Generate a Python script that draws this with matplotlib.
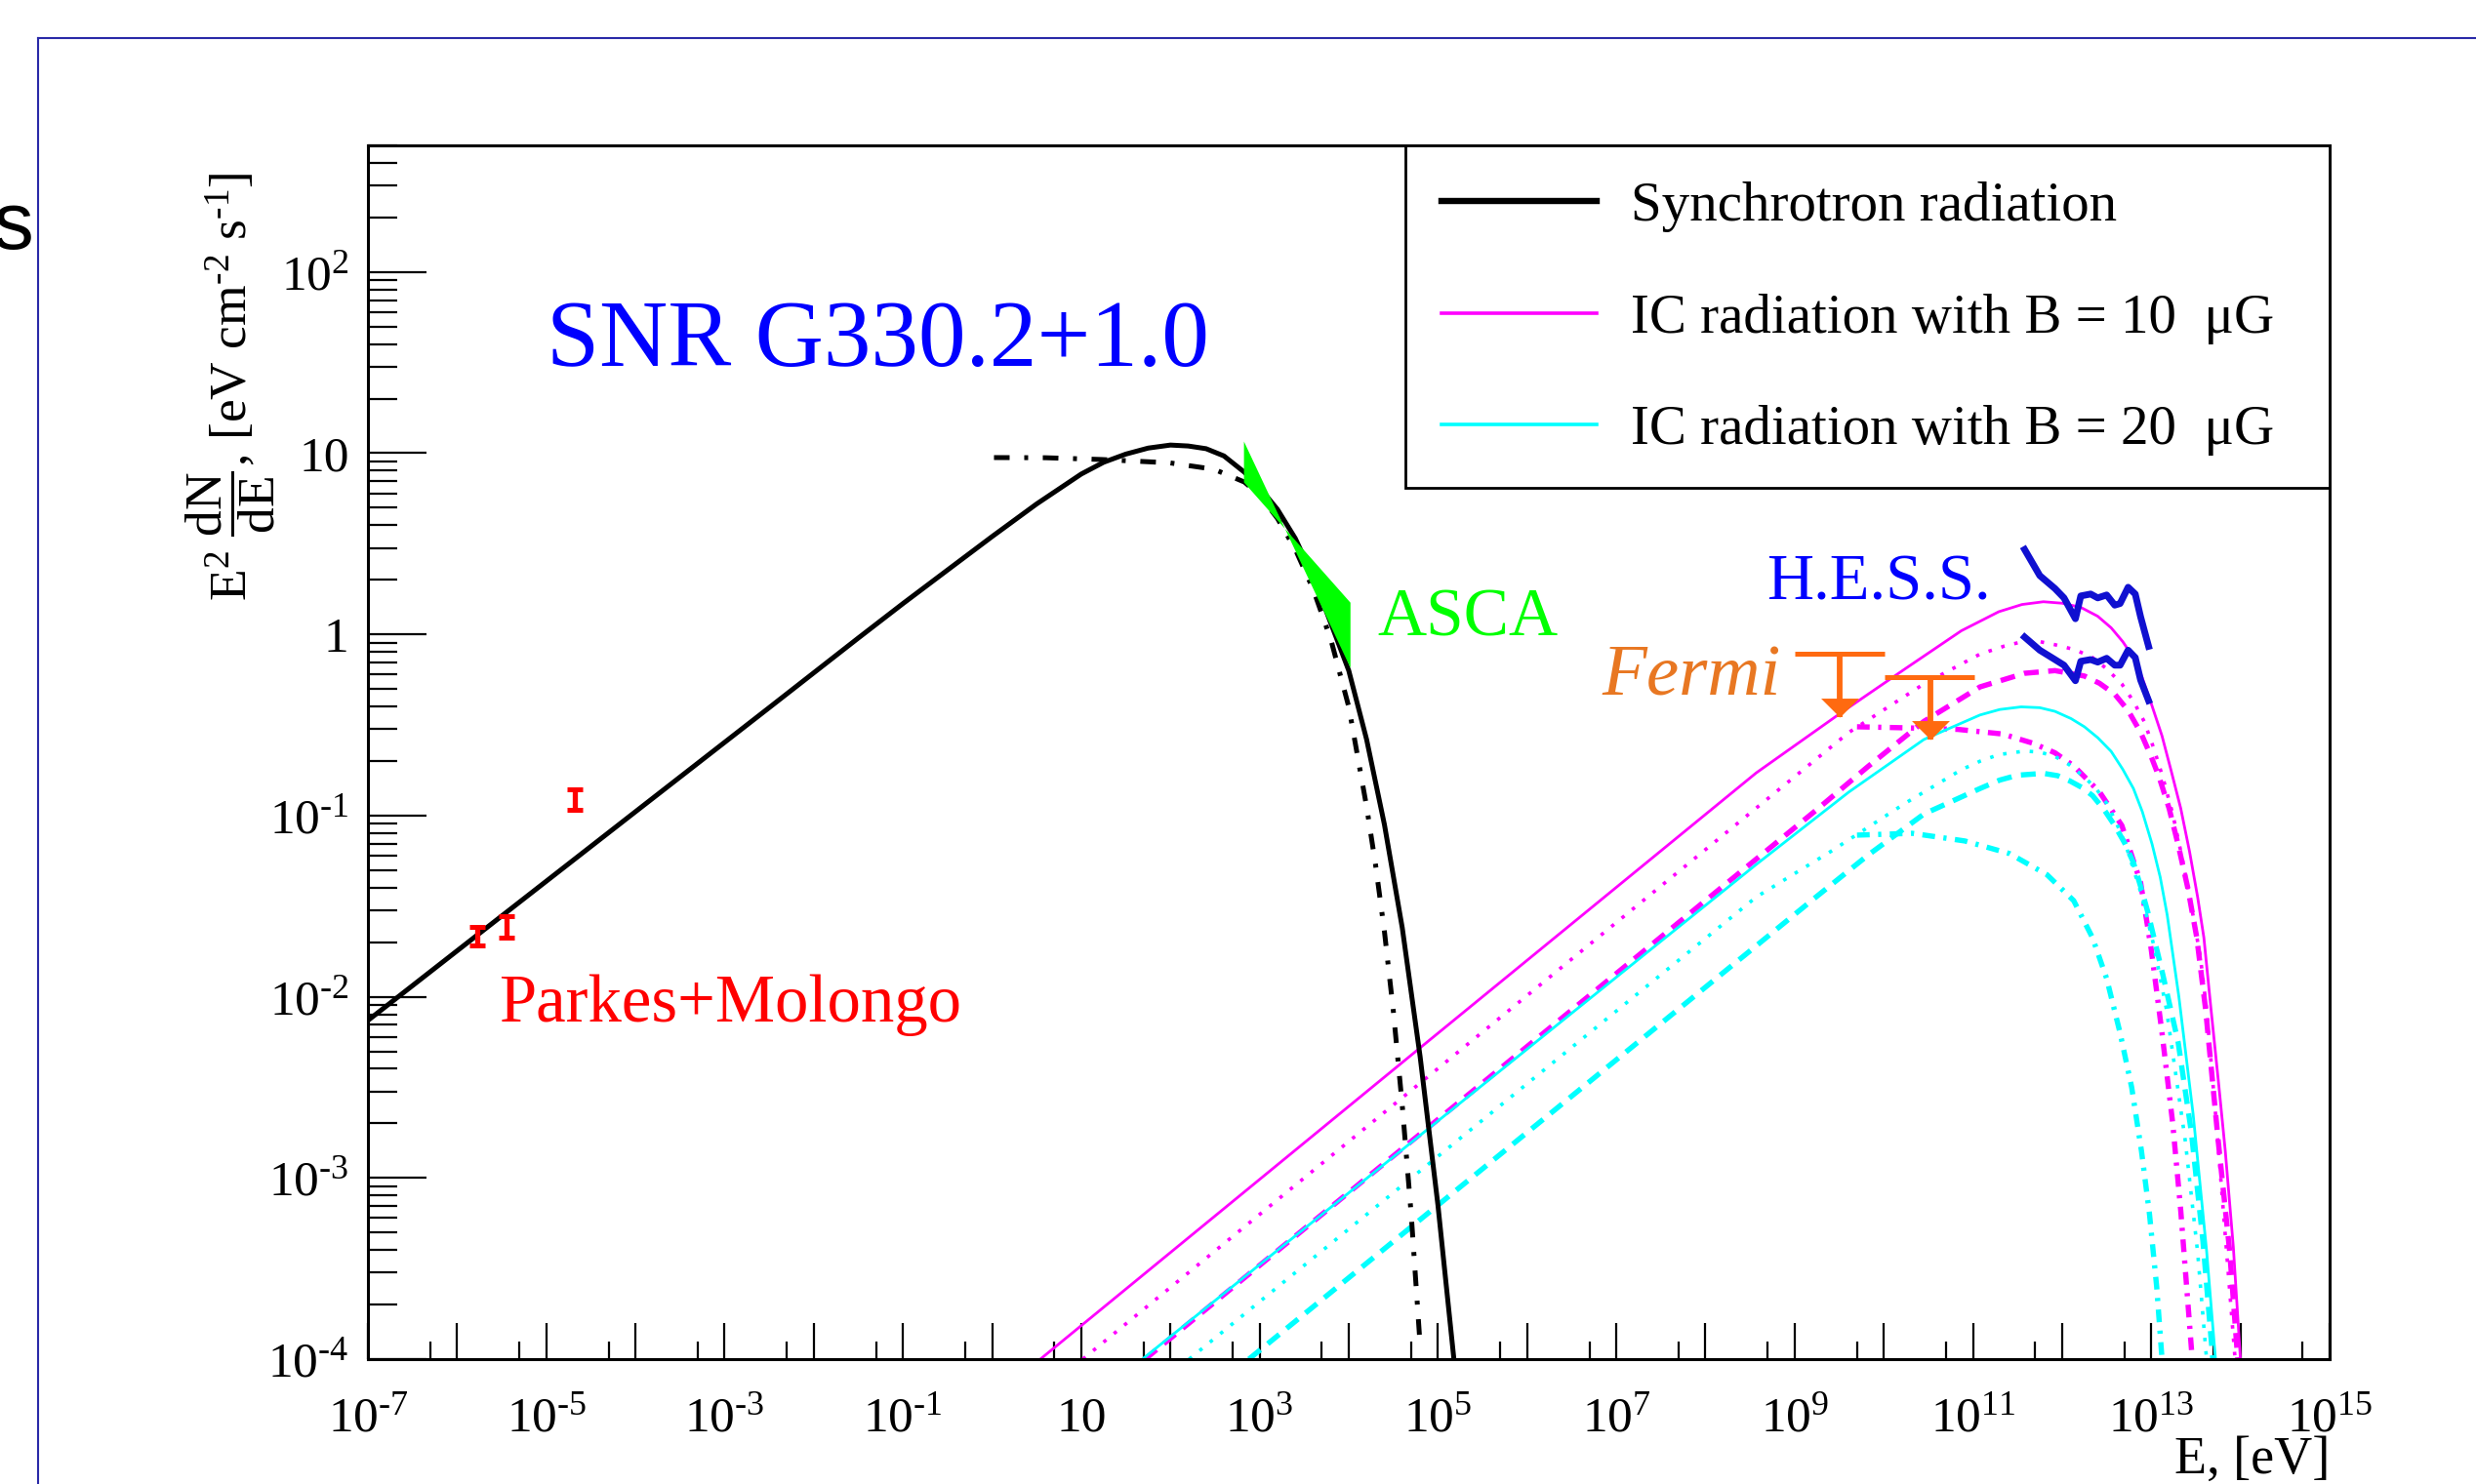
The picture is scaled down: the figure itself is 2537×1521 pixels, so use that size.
import matplotlib
matplotlib.use("Agg")
import matplotlib.pyplot as plt
from matplotlib.lines import Line2D
from matplotlib.patches import Rectangle
from matplotlib.ticker import LogLocator, NullFormatter
import numpy as np

plt.rcParams["font.family"] = ["Liberation Serif", "DejaVu Serif"]
plt.rcParams["mathtext.fontset"] = "custom"
plt.rcParams["mathtext.rm"] = "Liberation Serif"
plt.rcParams["mathtext.it"] = "Liberation Serif:italic"
plt.rcParams["mathtext.bf"] = "Liberation Serif:bold"

# ---- synchrotron (black) ----
sync_E = [1e-7, 3.16e-6, 1e-4, 3.16e-3, 0.0316, 0.1, 0.316, 1.0, 3.16, 10, 17.8, 31.6,
          56.2, 100, 158, 251, 398, 676, 1000, 1585, 2512, 3981, 6310, 1e4, 1.585e4,
          2.512e4, 3.981e4, 6.31e4, 1e5, 1.51e5]
sync_flux = [7.4e-3, 0.0279, 0.105, 0.394, 0.955, 1.479, 2.265, 3.467, 5.248, 7.674,
             8.91, 9.886, 10.67, 11.09, 10.96, 10.59, 9.66, 7.85, 6.457, 4.898, 3.388,
             2.089, 1.148, 0.631, 0.263, 0.0891, 0.024, 4.68e-3, 7.08e-4, 1e-4]
sync_cut_E = [1.05, 3.98, 17.0, 97.7, 309, 676, 1000, 1585, 2512, 3981, 6310, 1e4,
              1.585e4, 1.995e4, 2.512e4, 3.162e4, 3.981e4, 5.012e4, 6.31e4]
sync_cut_flux = [9.46, 9.44, 9.23, 8.85, 8.15, 6.93, 5.89, 4.365, 2.95, 1.778, 0.933,
                 0.398, 0.112, 0.0537, 0.0229, 8.32e-3, 2.51e-3, 6.31e-4, 1.2e-4]

# ---- IC, B = 10 uG (magenta) ----
ic10_solid_E = [3.48, 6.03e4, 3.71e8, 3.39e9, 1.74e10, 7.41e10, 1.95e11, 3.55e11,
                6.17e11, 1e12, 1.62e12, 2.51e12, 3.55e12, 4.79e12, 6.31e12, 7.94e12,
                1.02e13, 1.32e13, 1.66e13, 2.14e13, 2.69e13, 3.31e13, 3.89e13,
                4.68e13, 5.75e13, 6.76e13, 8.32e13, 1.0e14]
ic10_solid_flux = [1e-4, 5.13e-3, 0.172, 0.372, 0.646, 1.047, 1.334, 1.462, 1.514,
                   1.486, 1.41, 1.259, 1.087, 0.912, 0.745, 0.575, 0.403, 0.275, 0.179,
                   0.1096, 0.0631, 0.0355, 0.0212, 8.51e-3, 3.16e-3, 1.41e-3, 4.17e-4,
                   1e-4]
ic10_dot_E = [10.4, 3.71e8, 4.07e9, 2.82e10, 1.2e11, 2.24e11, 3.8e11, 5.62e11,
              8.32e11, 1.41e12, 2.19e12, 3.16e12, 4.68e12, 6.31e12, 8.32e12, 1.07e13,
              1.35e13, 1.74e13, 2.19e13, 2.82e13, 3.55e13, 4.17e13, 5.37e13, 7.24e13,
              8.71e13]
ic10_dot_flux = [1e-4, 0.11, 0.288, 0.533, 0.778, 0.861, 0.918, 0.912, 0.877, 0.822,
                 0.745, 0.646, 0.532, 0.427, 0.331, 0.234, 0.162, 0.102, 0.0603,
                 0.0316, 0.0166, 8.51e-3, 2.0e-3, 3.16e-4, 1e-4]
ic10_dash_E = [51.9, 3.71e8, 1.74e9, 6.61e9, 2.82e10, 1.2e11, 3.8e11, 8.32e11,
               1.78e12, 2.63e12, 3.89e12, 5.5e12, 7.59e12, 1e13, 1.23e13, 1.585e13,
               2.0e13, 2.57e13, 3.24e13, 4.07e13, 5.62e13, 7.59e13, 9.33e13]
ic10_dash_flux = [1e-4, 0.0575, 0.107, 0.186, 0.331, 0.513, 0.610, 0.631, 0.589,
                  0.537, 0.468, 0.380, 0.288, 0.211, 0.162, 0.1096, 0.0692, 0.0398,
                  0.0212, 8.51e-3, 1.62e-3, 3.89e-4, 1e-4]
ic10_dd_E = [5.01e9, 1.74e10, 6.76e10, 2.14e11, 4.68e11, 8.32e11, 1.35e12, 2.63e12,
             4.68e12, 7.59e12, 1.0e13, 1.32e13, 1.74e13, 2.14e13, 2.51e13, 2.88e13]
ic10_dd_flux = [0.309, 0.305, 0.299, 0.282, 0.251, 0.222, 0.188, 0.135, 0.0881,
                0.0427, 0.0182, 6.31e-3, 2.0e-3, 6.61e-4, 2.4e-4, 1e-4]

# ---- IC, B = 20 uG (cyan) ----
ic20_solid_E = [48.5, 3.71e8, 4.07e9, 2.82e10, 1.2e11, 2.0e11, 3.47e11, 5.62e11,
                8.32e11, 1.26e12, 1.78e12, 2.51e12, 3.55e12, 4.79e12, 6.31e12, 7.94e12,
                1.02e13, 1.26e13, 1.51e13, 2.04e13, 2.95e13, 4.17e13, 5.25e13]
ic20_solid_flux = [1e-4, 0.0537, 0.135, 0.263, 0.359, 0.385, 0.398, 0.394, 0.376,
                   0.343, 0.309, 0.269, 0.226, 0.180, 0.141, 0.105, 0.0697, 0.0457,
                   0.0282, 0.01, 2.24e-3, 3.98e-4, 1e-4]
ic20_dot_E = [162, 3.71e8, 2.51e9, 1.74e10, 7.41e10, 1.2e11, 1.95e11, 3.8e11, 5.62e11,
              8.32e11, 1.2e12, 1.78e12, 2.4e12, 3.16e12, 3.98e12, 5.13e12, 7.59e12,
              1.07e13, 1.48e13, 2.4e13, 3.31e13, 4.17e13]
ic20_dot_flux = [1e-4, 0.0355, 0.0631, 0.117, 0.179, 0.1995, 0.217, 0.227, 0.224,
                 0.212, 0.191, 0.163, 0.141, 0.117, 0.0933, 0.0697, 0.038, 0.0191,
                 8.51e-3, 1.62e-3, 3.89e-4, 1e-4]
ic20_dash_E = [759, 3.71e8, 1.58e9, 6.61e9, 2.82e10, 1.2e11, 2.0e11, 3.16e11, 6.17e11,
               8.91e11, 1.23e12, 1.66e12, 2.19e12, 2.95e12, 3.89e12, 5.01e12, 6.31e12,
               7.59e12, 9.12e12, 1.35e13, 2.0e13, 2.82e13, 3.8e13, 4.9e13]
ic20_dash_flux = [1e-4, 0.0191, 0.0342, 0.0603, 0.102, 0.141, 0.157, 0.167, 0.171,
                  0.166, 0.155, 0.143, 0.129, 0.108, 0.0881, 0.0708, 0.055, 0.0407,
                  0.0295, 0.0132, 5.62e-3, 1.78e-3, 4.47e-4, 1e-4]
ic20_dd_E = [5.01e9, 2.09e10, 8.13e10, 2.57e11, 6.76e11, 1.35e12, 2.19e12, 3.16e12,
             4.47e12, 6.03e12, 7.76e12, 9.55e12, 1.15e13, 1.32e13]
ic20_dd_flux = [0.078, 0.0798, 0.0724, 0.0617, 0.0472, 0.0339, 0.0212, 0.0126,
                6.31e-3, 3.16e-3, 1.41e-3, 6.31e-4, 2.51e-4, 1e-4]

# ---- measurements ----
radio_E = [1.70e-6, 3.58e-6, 2.09e-5]
radio_flux = [0.0217, 0.0243, 0.122]
radio_lo = [0.0191, 0.0211, 0.108]
radio_hi = [0.0243, 0.0279, 0.139]

asca_E = [668, 1.045e4, 1.045e4, 668]
asca_flux = [11.6, 0.653, 1.496, 6.90]

fermi_E = [3.24e9, 3.31e10]
fermi_E_lo = [1.01e9, 1.02e10]
fermi_E_hi = [1.02e10, 1.05e11]
fermi_ul = [0.78, 0.58]
fermi_tip = [0.348, 0.262]

hess_E = [3.80e11, 5.62e11, 8.32e11, 1.05e12, 1.41e12, 1.62e12, 2.09e12, 2.51e12,
          3.16e12, 3.89e12, 4.47e12, 5.50e12, 6.61e12, 7.59e12, 9.33e12]
hess_hi = [2.94, 2.11, 1.79, 1.59, 1.22, 1.63, 1.67, 1.59, 1.65, 1.45, 1.48, 1.82,
           1.67, 1.25, 0.859]
hess_lo = [0.966, 0.818, 0.726, 0.676, 0.555, 0.710, 0.726, 0.703, 0.738, 0.676,
           0.676, 0.818, 0.745, 0.560, 0.431]

legend_labels = ["Synchrotron radiation",
                 "IC radiation with B = 10  \u03bcG",
                 "IC radiation with B = 20  \u03bcG"]

MAGENTA = "#ff00ff"
CYAN = "#00ffff"
ORANGE = "#ff6a10"

W, H = 2537, 1521
fig = plt.figure(figsize=(W / 100, H / 100), dpi=100)
fig.patch.set_facecolor("white")

# slide frame + cut-off letter on the left
fx, fy = 39 / W, 1 - 39 / H
fig.add_artist(Line2D([fx, 1], [fy, fy], transform=fig.transFigure, color="#2a2aa8", lw=1.5))
fig.add_artist(Line2D([fx, fx], [0, fy], transform=fig.transFigure, color="#2a2aa8", lw=1.5))
fig.text(0.0135, 0.8323, "s", family="Liberation Sans", fontsize=60, ha="right", va="baseline")

# axes box in pixels: x 377..2387, y 149..1393 (from top)
ax = fig.add_axes([377 / W, 128 / H, 2010 / W, 1244 / H])
ax.set_xscale("log")
ax.set_yscale("log")
ax.set_xlim(1e-7, 1e15)
ax.set_ylim(1e-4, 5e2)

# synchrotron
ax.plot(sync_E, sync_flux, color="black", lw=3.6, zorder=3)
ax.plot(sync_cut_E, sync_cut_flux, color="black", lw=3.6, dashes=(3.2, 3.0, 0.8, 3.0), zorder=3)

# IC curves
styles = {
    "solid": dict(lw=2.0),
    "dot": dict(lw=2.6, dashes=(1.0, 2.8)),
    "dash": dict(lw=3.9, dashes=(2.8, 1.8)),
    "dd": dict(lw=3.9, dashes=(2.4, 1.6, 0.6, 1.6)),
}
ax.plot(ic10_solid_E, ic10_solid_flux, color=MAGENTA, **styles["solid"])
ax.plot(ic10_dot_E, ic10_dot_flux, color=MAGENTA, **styles["dot"])
ax.plot(ic10_dash_E, ic10_dash_flux, color=MAGENTA, **styles["dash"])
ax.plot(ic10_dd_E, ic10_dd_flux, color=MAGENTA, **styles["dd"])
ax.plot(ic20_solid_E, ic20_solid_flux, color=CYAN, **styles["solid"])
ax.plot(ic20_dot_E, ic20_dot_flux, color=CYAN, **styles["dot"])
ax.plot(ic20_dash_E, ic20_dash_flux, color=CYAN, **styles["dash"])
ax.plot(ic20_dd_E, ic20_dd_flux, color=CYAN, **styles["dd"])

# ASCA bow-tie
ax.fill(asca_E, asca_flux, color="#00ff00", lw=0, zorder=4)

# radio points
radio_err = [np.array(radio_flux) - np.array(radio_lo), np.array(radio_hi) - np.array(radio_flux)]
ax.errorbar(radio_E, radio_flux, yerr=radio_err, fmt="none", ecolor="#ff0000",
            elinewidth=3.8, capsize=6.0, capthick=3.6, zorder=5)

# Fermi upper limits
ax.hlines(fermi_ul, fermi_E_lo, fermi_E_hi, color=ORANGE, lw=3.6, zorder=5)
ax.vlines(fermi_E, fermi_tip, fermi_ul, color=ORANGE, lw=4.2, zorder=5)
ax.plot(fermi_E, fermi_tip, ls="none", marker=[(-1, 1), (1, 1), (0, 0)],
        markersize=28, color=ORANGE, mec="none", zorder=6)

# HESS
ax.plot(hess_E, hess_hi, color="#1010d0", lw=5.0, zorder=6)
ax.plot(hess_E, hess_lo, color="#1010d0", lw=5.0, zorder=6)

# axes decoration
for sp in ax.spines.values():
    sp.set_linewidth(2.2)

xt = [10.0 ** e for e in range(-7, 16)]
xl = []
for e in range(-7, 16):
    if e % 2 == 0:
        xl.append("")
    elif e == 1:
        xl.append("10")
    elif e < 0:
        xl.append(r"$10^{\text{-}%d}$" % (-e))
    else:
        xl.append(r"$10^{%d}$" % e)
ax.set_xticks(xt)
ax.set_xticklabels(xl)
ax.set_yticks([1e-4, 1e-3, 1e-2, 1e-1, 1, 10, 100])
ax.set_yticklabels([r"$10^{\text{-}4}$", r"$10^{\text{-}3}$", r"$10^{\text{-}2}$",
                    r"$10^{\text{-}1}$", "1", "10", r"$10^{2}$"])
ax.xaxis.set_minor_locator(LogLocator(base=10, subs=(5.0,), numticks=40))
ax.yaxis.set_minor_locator(LogLocator(base=10, subs=np.arange(2, 10), numticks=40))
ax.xaxis.set_minor_formatter(NullFormatter())
ax.yaxis.set_minor_formatter(NullFormatter())
ax.tick_params(axis="x", which="major", direction="in", length=26.6, width=1.6,
               pad=53, labelsize=37, top=False)
ax.tick_params(axis="x", which="minor", direction="in", length=13, width=1.6, top=False)
ax.tick_params(axis="y", which="major", direction="in", length=43, width=1.6,
               pad=14, labelsize=37, right=False)
ax.tick_params(axis="y", which="minor", direction="in", length=21.6, width=1.6, right=False)
for tk in ax.xaxis.get_major_ticks():
    tk.label1.set_verticalalignment("baseline")

fig.text(2387 / W, 0.0072, "E, [eV]", ha="right", va="baseline", fontsize=39)
fig.text(0.0931, 0.7396,
         r"E$^{2}$ $\dfrac{\mathrm{dN}}{\mathrm{dE}}$, [eV cm$^{\text{-}2}$ s$^{\text{-}1}$]",
         rotation=90, ha="center", va="center", fontsize=38.5)

# annotations
ax.text(0.091, 0.818, "SNR G330.2+1.0", transform=ax.transAxes, fontsize=70,
        color="#0000ff", va="baseline")
ax.text(0.0667, 0.278, "Parkes+Molongo", transform=ax.transAxes, fontsize=49.5,
        color="#ff0000", va="baseline")
ax.text(0.5144, 0.5957, "ASCA", transform=ax.transAxes, fontsize=50,
        color="#00ff00", va="baseline")
ax.text(0.7129, 0.6262, "H.E.S.S.", transform=ax.transAxes, fontsize=48,
        color="#0000ff", va="baseline")
ax.text(0.6289, 0.5474, "Fermi", transform=ax.transAxes, fontsize=54,
        color="#e87722", style="italic", va="baseline")

# legend: frame drawn as its own box (pixels x 1440..2387, y 149..500)
ax.add_patch(Rectangle(((1440 - 377) / 2010, (1393 - 500) / 1244), 947 / 2010, 351 / 1244,
                       transform=ax.transAxes, facecolor="white", edgecolor="black",
                       lw=2.0, zorder=9))
handles = [Line2D([], [], color="black", lw=4.6),
           Line2D([], [], color=MAGENTA, lw=2.6),
           Line2D([], [], color=CYAN, lw=2.6)]
leg = ax.legend(handles, legend_labels, loc="upper left",
                bbox_to_anchor=((1477 - 377) / 2010, (1393 - 186) / 1244),
                borderaxespad=0, borderpad=0, fontsize=41, frameon=False,
                handlelength=2.8, handletextpad=0.6, labelspacing=1.1)
leg.set_zorder(10)

fig.savefig("out.png", dpi=100, facecolor=fig.get_facecolor())
